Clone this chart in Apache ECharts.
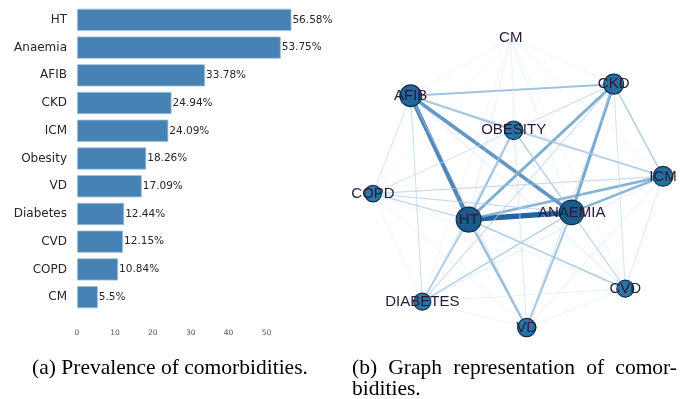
<!DOCTYPE html>
<html>
<head>
<meta charset="utf-8">
<script src="https://cdn.jsdelivr.net/npm/echarts@6/dist/echarts.min.js"></script>
<style>
  html, body { margin: 0; padding: 0; background: #fff; }
  #chart { width: 683px; height: 399px; }
</style>
</head>
<body>
<div id="chart"></div>
<script>
// Prevalence of each comorbidity (%)
const conditions = ['HT', 'Anaemia', 'AFIB', 'CKD', 'ICM', 'Obesity', 'VD', 'Diabetes', 'CVD', 'COPD', 'CM'];
const prevalence = [56.58, 53.75, 33.78, 24.94, 24.09, 18.26, 17.09, 12.44, 12.15, 10.84, 5.5];
const xTicks = [0, 10, 20, 30, 40, 50];

// Graph nodes: name, layout position (normalised spring layout), prevalence
const nodeNames = ['CM', 'AFIB', 'CKD', 'OBESITY', 'ICM', 'COPD', 'HT', 'ANAEMIA', 'DIABETES', 'CVD', 'VD'];
const nodeX = [-0.05, -0.74, 0.66, -0.03, 1.00, -1.00, -0.34, 0.37, -0.66, 0.74, 0.06];
const nodeY = [1.02, 0.62, 0.70, 0.38, 0.06, -0.06, -0.24, -0.19, -0.81, -0.72, -0.99];
const nodePrevalence = [5.5, 33.78, 24.94, 18.26, 24.09, 10.84, 56.58, 53.75, 12.44, 12.15, 17.09];

// Co-occurrence edges: source, target, relative strength
const edgeSource = ['HT','AFIB','AFIB','ANAEMIA','HT','HT','ANAEMIA','HT','AFIB','ANAEMIA','HT','AFIB','OBESITY','HT','ANAEMIA','HT','CKD','OBESITY','ANAEMIA','HT','ANAEMIA','COPD','AFIB','AFIB','AFIB','AFIB','AFIB','CKD','CKD','CKD','CKD','CKD','ICM','ICM','ICM','OBESITY','OBESITY','OBESITY','OBESITY','DIABETES','DIABETES','VD','COPD','COPD','COPD','CM','CM','CM','CM','CM','CM','CM','CM','CM','CM'];
const edgeTarget = ['ANAEMIA','HT','ANAEMIA','CKD','CKD','ICM','ICM','VD','CKD','VD','OBESITY','OBESITY','ANAEMIA','DIABETES','DIABETES','CVD','ICM','ICM','CVD','COPD','COPD','ICM','ICM','DIABETES','VD','COPD','CVD','DIABETES','VD','CVD','OBESITY','COPD','CVD','VD','DIABETES','DIABETES','VD','CVD','COPD','VD','CVD','CVD','DIABETES','VD','CVD','HT','ANAEMIA','AFIB','CKD','ICM','OBESITY','VD','DIABETES','CVD','COPD'];
const edgeWeight = [1.0, 0.8, 0.7, 0.58, 0.55, 0.5, 0.5, 0.45, 0.4, 0.38, 0.4, 0.38, 0.3, 0.33, 0.3, 0.32, 0.3, 0.28, 0.22, 0.25, 0.2, 0.2, 0.2, 0.18, 0.15, 0.15, 0.12, 0.18, 0.15, 0.15, 0.15, 0.1, 0.12, 0.1, 0.1, 0.15, 0.1, 0.1, 0.1, 0.08, 0.08, 0.08, 0.06, 0.06, 0.05, 0.08, 0.08, 0.06, 0.06, 0.05, 0.05, 0.04, 0.04, 0.03, 0.03];

const captionA = '(a) Prevalence of comorbidities.';
const captionB1 = ['(b)', 'Graph', 'representation', 'of', 'comor-'];
const captionB2 = 'bidities.';

// ---- helpers ----
function mix(c1, c2, t) {
  const a = parseInt(c1.slice(1), 16), b = parseInt(c2.slice(1), 16);
  const r = Math.round(((a >> 16) & 255) * (1 - t) + ((b >> 16) & 255) * t);
  const g = Math.round(((a >> 8) & 255) * (1 - t) + ((b >> 8) & 255) * t);
  const bl = Math.round((a & 255) * (1 - t) + (b & 255) * t);
  return 'rgb(' + r + ',' + g + ',' + bl + ')';
}
function edgeColor(w) {
  return w < 0.5 ? mix('#dde8f3', '#6aa3cd', w / 0.5) : mix('#6aa3cd', '#2463a0', (w - 0.5) / 0.5);
}
function nodeSize(p) { return Math.min(25, 10 + Math.sqrt(p) * 2); }
function nodeColor(p) { return mix('#2c78a8', '#1a5b8b', Math.min(1, (p - 10) / 40)); }

const graphNodes = nodeNames.map((n, i) => {
  const p = nodePrevalence[i];
  const faint = p < 8;
  return {
    name: n,
    value: [nodeX[i], nodeY[i]],
    symbolSize: faint ? 2 : nodeSize(p),
    itemStyle: faint
      ? { color: 'rgba(255,255,255,0)', borderWidth: 0 }
      : { color: nodeColor(p), borderColor: '#0c2f4b', borderWidth: 1.2 }
  };
});
const graphLinks = edgeSource.map((s, i) => ({
  source: s,
  target: edgeTarget[i],
  lineStyle: {
    width: 0.4 + 5 * Math.pow(edgeWeight[i], 1.15),
    color: edgeColor(edgeWeight[i]),
    opacity: 0.6 + 0.4 * edgeWeight[i]
  }
}));

// Justify a caption line between two x positions
const measureCtx = document.createElement('canvas').getContext('2d');
const serifFont = '21.5px "Liberation Serif"';
measureCtx.font = serifFont;
function justify(words, x0, x1, y) {
  const widths = words.map(w => measureCtx.measureText(w).width);
  const total = widths.reduce((a, b) => a + b, 0);
  const gap = (x1 - x0 - total) / (words.length - 1);
  let x = x0;
  return words.map((w, i) => {
    const el = { type: 'text', x: x, y: y, style: { text: w, font: serifFont, fill: '#000', textVerticalAlign: 'middle' } };
    x += widths[i] + gap;
    return el;
  });
}

const chart = echarts.init(document.getElementById('chart'), null, { renderer: 'canvas' });
chart.setOption({
  animation: false,
  backgroundColor: '#fff',
  grid: [
    { left: 77, top: 6, width: 227.4, height: 305, containLabel: false },
    { left: 373, top: 41, width: 290, height: 288, containLabel: false }
  ],
  xAxis: [
    {
      gridIndex: 0, type: 'value', min: 0, max: 60, interval: 10,
      axisLine: { show: false }, axisTick: { show: false }, splitLine: { show: false },
      axisLabel: {
        margin: 18, fontSize: 7.5, color: '#555', fontFamily: 'DejaVu Sans',
        formatter: v => (xTicks.indexOf(v) >= 0 ? String(v) : '')
      }
    },
    { gridIndex: 1, type: 'value', min: -1, max: 1, show: false }
  ],
  yAxis: [
    {
      gridIndex: 0, type: 'category', data: conditions, inverse: true,
      axisLine: { show: false }, axisTick: { show: false }, splitLine: { show: false },
      axisLabel: { margin: 10, fontSize: 12, color: '#262626', fontFamily: 'DejaVu Sans' }
    },
    { gridIndex: 1, type: 'value', min: -1, max: 1, show: false }
  ],
  series: [
    {
      type: 'bar', xAxisIndex: 0, yAxisIndex: 0, data: prevalence,
      barCategoryGap: '20%',
      itemStyle: { color: '#4682b4', borderColor: '#a3c0da', borderWidth: 0.8 },
      label: {
        show: true, position: 'right', distance: 1,
        formatter: p => p.value + '%',
        fontSize: 10.5, color: '#262626', fontFamily: 'DejaVu Sans'
      }
    },
    {
      type: 'graph', coordinateSystem: 'cartesian2d', xAxisIndex: 1, yAxisIndex: 1,
      data: graphNodes, links: graphLinks,
      symbol: 'circle',
      label: {
        show: true, position: 'inside', formatter: '{b}',
        fontSize: 15, color: '#2a1936', fontFamily: 'Liberation Sans'
      },
      emphasis: { disabled: true }
    }
  ],
  graphic: [
    { type: 'text', x: 170, y: 368, style: { text: captionA, font: serifFont, fill: '#000', textAlign: 'center', textVerticalAlign: 'middle' } },
    ...justify(captionB1, 352, 677, 368),
    { type: 'text', x: 352, y: 389, style: { text: captionB2, font: serifFont, fill: '#000', textVerticalAlign: 'middle' } }
  ]
});
</script>
</body>
</html>
